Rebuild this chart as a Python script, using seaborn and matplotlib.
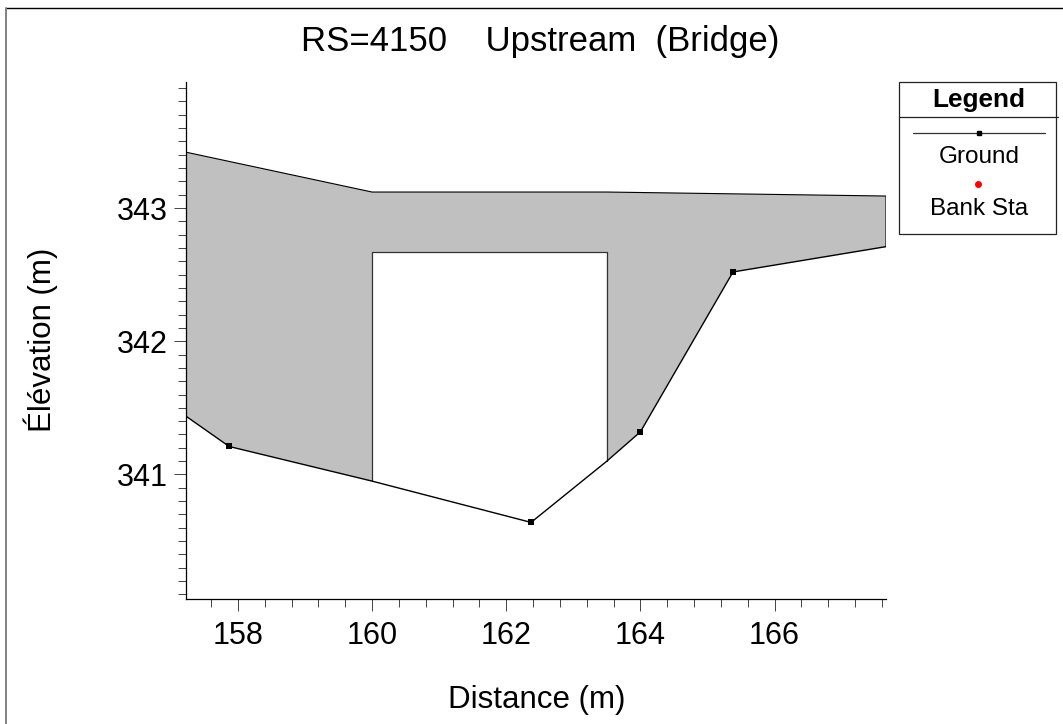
import matplotlib
matplotlib.use("Agg")
import matplotlib.pyplot as plt
from matplotlib.patches import Rectangle
from matplotlib.ticker import MultipleLocator
import pandas as pd
import seaborn as sns

# section geometry
ground_x = [157.22, 157.87, 160.0, 162.37, 163.5, 164.0, 165.38, 167.66]
ground_y = [341.44, 341.21, 340.95, 340.64, 341.10, 341.32, 342.52, 342.71]
point_x = [157.87, 162.37, 164.0, 165.38]
point_y = [341.21, 340.64, 341.32, 342.52]
deck_x = [157.22, 160.0, 163.5, 167.66]
deck_y = [343.42, 343.12, 343.12, 343.09]
chord_x = [160.0, 160.0, 163.5, 163.5]
chord_y = [340.95, 342.67, 342.67, 341.10]
x_ticks = [158, 160, 162, 164, 166]
y_ticks = [341, 342, 343]

sns.set_style("white")
plt.rcParams['font.family'] = ['Liberation Sans', 'DejaVu Sans']

df_ground = pd.DataFrame({'x': ground_x, 'y': ground_y})
df_points = pd.DataFrame({'x': point_x, 'y': point_y})

fig = plt.figure(figsize=(10.63, 7.24), dpi=100)
ax = fig.add_axes([185.5/1063, 1-599/724, (886-185.5)/1063, (599-82)/724])

# grey fill goes round the deck, down the right bank, then round the opening
fill_x = deck_x + ground_x[:4:-1] + chord_x[::-1] + ground_x[1::-1]
fill_y = deck_y + ground_y[:4:-1] + chord_y[::-1] + ground_y[1::-1]
ax.fill(fill_x, fill_y, facecolor='#c0c0c0', edgecolor='none', zorder=1)

ax.plot(deck_x + [deck_x[-1]], deck_y + [ground_y[-1]], color='black', lw=0.8, zorder=2)
ax.plot(chord_x, chord_y, color='#333333', lw=0.9, zorder=2)
sns.lineplot(data=df_ground, x='x', y='y', sort=False, estimator=None, color='black', lw=1.0, ax=ax, zorder=3)
sns.scatterplot(data=df_points, x='x', y='y', marker='s', color='black', s=14, linewidth=0, ax=ax, zorder=4)

ax.set_xlim(157.22, 167.66)
ax.set_ylim(340.065, 343.946)
ax.set_xticks(x_ticks)
ax.set_yticks(y_ticks)
ax.xaxis.set_minor_locator(MultipleLocator(0.4))
ax.yaxis.set_minor_locator(MultipleLocator(0.1))
ax.tick_params(axis='both', which='major', direction='out', length=8.6, width=0.7, color='#444444',
               labelsize=22, labelcolor='black', pad=4, bottom=True, left=True)
ax.tick_params(axis='x', which='major', pad=7)
ax.tick_params(axis='both', which='minor', direction='out', length=5.8, width=0.7, color='#444444',
               bottom=True, left=True)
ax.set_xlabel('')
ax.set_ylabel('')
sns.despine(ax=ax)
for s in ['left', 'bottom']:
    ax.spines[s].set_color('black')
    ax.spines[s].set_linewidth(0.9)

fig.text(540/1063, 1-41/724, 'RS=4150    Upstream  (Bridge)', fontsize=25, ha='center', va='center', color='black')
fig.text(537/1063, 1-700/724, 'Distance (m)', fontsize=22.5, ha='center', va='center', color='black')
fig.text(41/1063, 1-340/724, 'Élévation (m)', fontsize=22.5, rotation=90, ha='center', va='center', color='black')

# hand drawn legend box and outer border, in pixel-like figure coordinates
lg = fig.add_axes([0, 0, 1, 1], facecolor='none')
lg.set_xlim(0, 1063)
lg.set_ylim(724, 0)
lg.axis('off')
lg.plot([6, 1063], [8, 8], color='black', lw=1.0)
lg.plot([6, 6], [8, 724], color='#808080', lw=1.4)
lg.add_patch(Rectangle((899, 82), 157, 152, fill=False, edgecolor='#222222', lw=0.9))
lg.plot([899, 1058], [117, 117], color='#222222', lw=0.9)
lg.plot([912.5, 1045], [133, 133], color='#333333', lw=0.9)
lg.plot([979], [133], marker='s', ms=3.2, color='black')
lg.plot([978], [184], marker='o', ms=4, color='#ff0000')
lg.text(978.5, 99.5, 'Legend', fontsize=18.8, fontweight='bold', ha='center', va='center', color='black')
lg.text(979, 157, 'Ground', fontsize=17.5, ha='center', va='center', color='black')
lg.text(979, 209, 'Bank Sta', fontsize=17.5, ha='center', va='center', color='black')

plt.savefig("out.png", dpi=100)
plt.close()
